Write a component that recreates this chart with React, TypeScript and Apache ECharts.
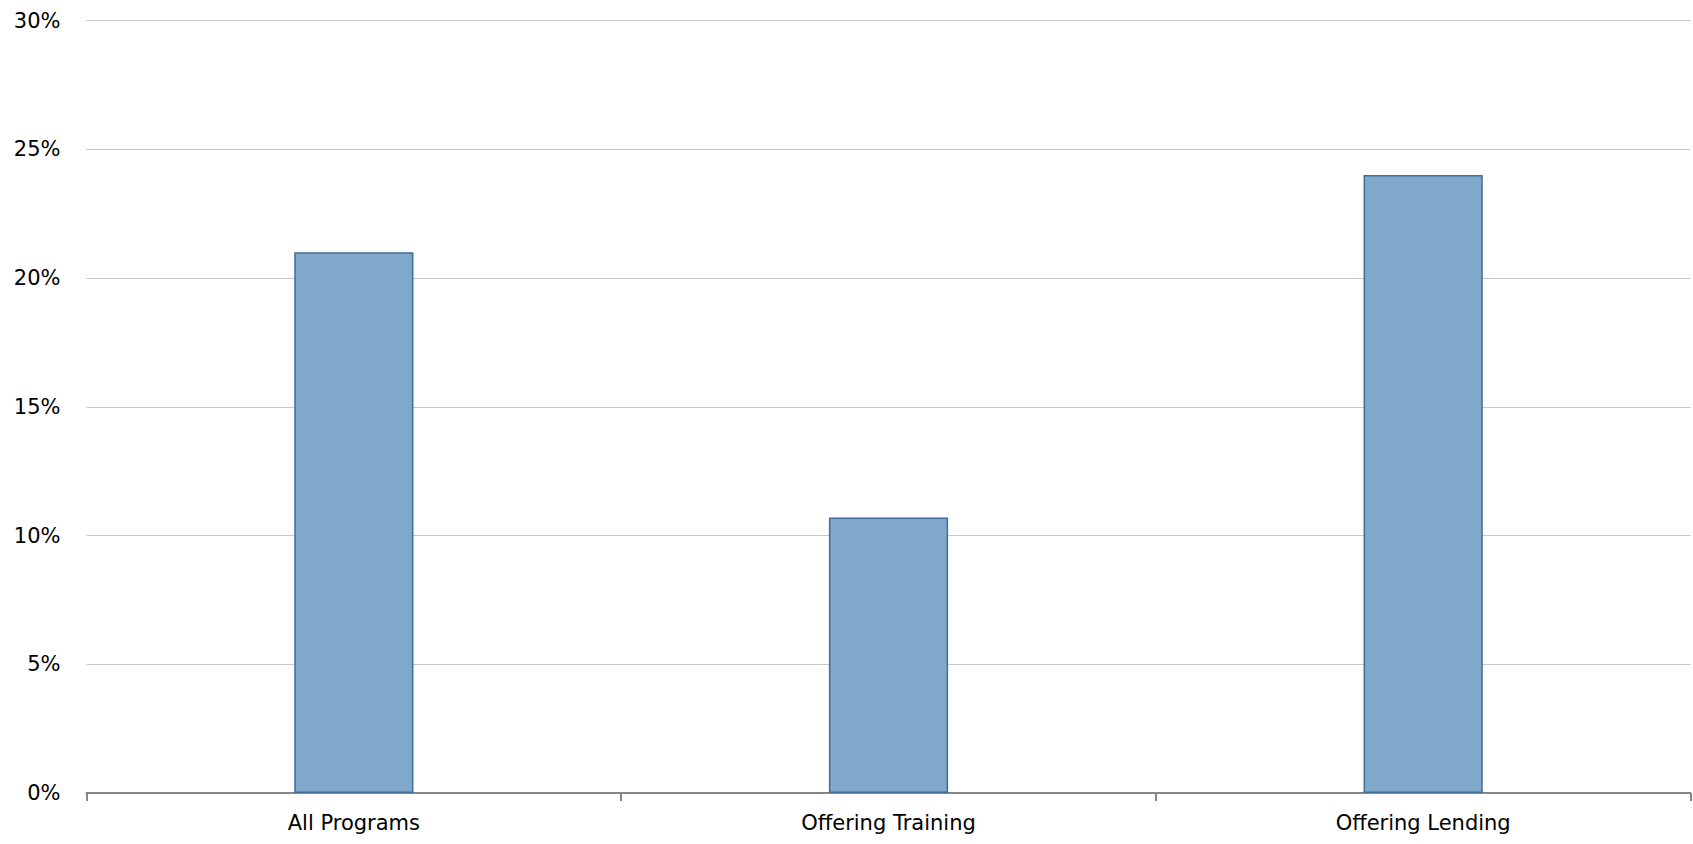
import React, { useEffect, useRef } from "react";
import * as echarts from "echarts";

const categories = ["All Programs", "Offering Training", "Offering Lending"];
const values = [21.0, 10.7, 24.0];
const yTicks = [0, 5, 10, 15, 20, 25, 30];

export default function App() {
  const ref = useRef<HTMLDivElement>(null);
  useEffect(() => {
    document.body.style.margin = "0";
    const chart = echarts.init(ref.current!, undefined, { renderer: "svg" });
    const font = "'Century Gothic', 'DejaVu Sans', sans-serif";
    chart.setOption({
      animation: false,
      grid: { left: 86.5, right: 2.5, top: 20.5, bottom: 51, containLabel: false },
      xAxis: {
        type: "category",
        data: categories,
        axisLine: { show: true, lineStyle: { color: "#868686", width: 2 } },
        axisTick: { show: true, alignWithLabel: false, length: 8, lineStyle: { color: "#868686", width: 2 } },
        axisLabel: { color: "#000", fontSize: 21, fontFamily: font, margin: 19 },
        splitLine: { show: false },
      },
      yAxis: {
        type: "value",
        min: yTicks[0],
        max: yTicks[yTicks.length - 1],
        interval: 5,
        axisLine: { show: false },
        axisTick: { show: false },
        axisLabel: { color: "#000", fontSize: 21, fontFamily: font, margin: 26, formatter: (v: number) => `${v}%` },
        splitLine: { show: true, lineStyle: { color: "#c8c8c8", width: 1 } },
      },
      series: [
        {
          type: "bar",
          data: values,
          barWidth: "22.3%",
          itemStyle: { color: "#7FA8CA", borderColor: "#3F6E98", borderWidth: 1.5 },
        },
      ],
    });
    return () => chart.dispose();
  }, []);
  return <div ref={ref} style={{ width: 1693, height: 844 }} />;
}
